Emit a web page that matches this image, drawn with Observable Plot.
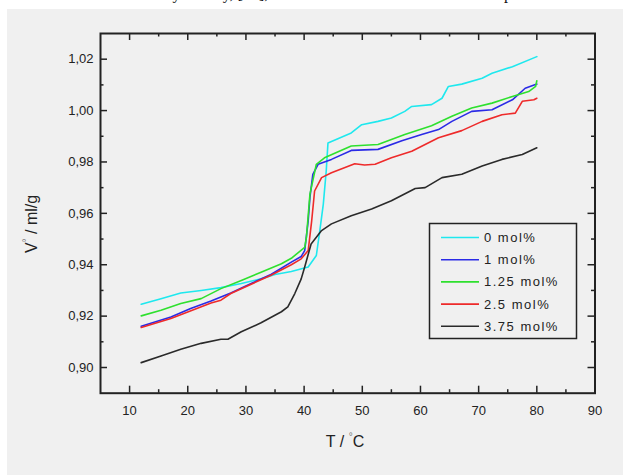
<!DOCTYPE html>
<html>
<head>
<meta charset="utf-8">
<script src="https://cdn.jsdelivr.net/npm/d3@7"></script>
<script src="https://cdn.jsdelivr.net/npm/@observablehq/plot@0.6"></script>
<style>
  body { margin: 0; background: #fff; width: 623px; height: 475px; overflow: hidden; position: relative;
         font-family: "Liberation Sans", Arial, sans-serif; }
  #caption { position: absolute; left: 12px; top: -15px; font: 16px "Liberation Serif", serif; color: #111; white-space: nowrap; }
  #panel { position: absolute; left: 7px; top: 9px; right: 0; bottom: 0; background: #f0f0f0; }
  #chart { position: absolute; left: 0; top: 0; }
</style>
</head>
<body>
<div id="caption">molar volume obtained by density, [14], for all SDS contents at different temperatures.</div>
<div id="panel"></div>
<div id="chart"></div>
<script>
// Specific volume V° (ml/g) versus temperature T (°C) for five SDS contents
const seriesNames = ["0 mol%", "1 mol%", "1.25 mol%", "2.5 mol%", "3.75 mol%"];
const seriesColors = ["#1ee8ee", "#2a2ae6", "#2ee02e", "#ee2a2a", "#2a2a2a"];

const t0 = [12, 15.4, 18.8, 22.3, 25.7, 29.2, 32.6, 35.0, 37.8, 40.7, 42.1, 42.7, 43.3, 43.8, 44.1, 45.8, 48.1, 49.9, 52.7, 55.0, 57.3, 58.5, 61.9, 63.7, 64.8, 67.1, 70.6, 72.3, 75.8, 80];
const v0 = [0.9246, 0.9268, 0.9290, 0.9300, 0.9311, 0.9327, 0.9345, 0.9362, 0.9374, 0.9391, 0.9436, 0.9533, 0.9636, 0.9765, 0.9874, 0.9890, 0.9913, 0.9945, 0.9958, 0.9971, 0.9997, 1.0016, 1.0023, 1.0048, 1.0094, 1.0103, 1.0126, 1.0145, 1.0171, 1.0210];

const t1 = [12, 17.1, 20.5, 24.0, 27.4, 30.9, 34.3, 37.8, 39.5, 40.1, 40.7, 41.0, 41.5, 42.4, 44.7, 48.1, 52.7, 56.8, 60.2, 63.1, 65.4, 68.8, 72.3, 75.8, 78.0, 80];
const v1 = [0.9161, 0.9197, 0.9230, 0.9259, 0.9290, 0.9327, 0.9362, 0.9410, 0.9432, 0.9455, 0.9571, 0.9662, 0.9752, 0.9791, 0.9810, 0.9845, 0.9849, 0.9883, 0.9907, 0.9926, 0.9958, 0.9997, 1.0003, 1.0042, 1.0087, 1.0103];

const t2 = [12, 15.4, 18.8, 22.3, 25.7, 29.2, 32.6, 36.1, 37.8, 40.1, 40.4, 41.0, 42.1, 43.5, 48.1, 52.7, 57.3, 61.9, 65.4, 68.8, 72.3, 75.8, 78.6, 79.8, 80];
const v2 = [0.9201, 0.9223, 0.9249, 0.9268, 0.9307, 0.9339, 0.9371, 0.9404, 0.9425, 0.9468, 0.9507, 0.9675, 0.9791, 0.9816, 0.9862, 0.9868, 0.9907, 0.9941, 0.9978, 1.0010, 1.0029, 1.0055, 1.0074, 1.0094, 1.0116];

const t3 = [12, 17.1, 24.0, 25.7, 27.4, 30.9, 34.3, 37.8, 39.5, 40.7, 41.3, 41.8, 43.0, 44.7, 48.7, 50.4, 52.2, 55.0, 58.5, 63.1, 67.1, 70.6, 74.0, 76.3, 77.5, 79.5, 80];
const v3 = [0.9156, 0.9191, 0.9251, 0.9262, 0.9288, 0.9324, 0.9359, 0.9400, 0.9423, 0.9455, 0.9571, 0.9687, 0.9739, 0.9758, 0.9793, 0.9788, 0.9791, 0.9816, 0.9842, 0.9894, 0.9922, 0.9958, 0.9984, 0.9990, 1.0036, 1.0042, 1.0048];

const t4 = [12, 15.4, 18.8, 22.3, 25.7, 26.9, 29.2, 32.6, 36.1, 37.2, 38.4, 39.5, 40.1, 41.2, 43.0, 44.7, 48.1, 51.6, 55.0, 59.1, 60.8, 63.7, 67.1, 70.6, 74.0, 77.5, 80];
const v4 = [0.9019, 0.9045, 0.9071, 0.9094, 0.9110, 0.9110, 0.9139, 0.9174, 0.9217, 0.9236, 0.9288, 0.9345, 0.9391, 0.9481, 0.9533, 0.9559, 0.9591, 0.9617, 0.9649, 0.9697, 0.9700, 0.9739, 0.9752, 0.9784, 0.9810, 0.9829, 0.9855];

const xMajor = [10, 20, 30, 40, 50, 60, 70, 80, 90];
const xMinor = [15, 25, 35, 45, 55, 65, 75, 85];
const yMajor = [0.90, 0.92, 0.94, 0.96, 0.98, 1.00, 1.02];
const yMinor = [0.91, 0.93, 0.95, 0.97, 0.99, 1.01];

const temps = [t0, t1, t2, t3, t4];
const vols = [v0, v1, v2, v3, v4];
const rows = seriesNames.flatMap((name, i) => temps[i].map((t, j) => ({series: name, t, v: vols[i][j]})));

const W = 623, H = 475, mL = 100, mR = 28.5, mT = 33, mB = 82.3;
const innerW = W - mL - mR, innerH = H - mT - mB;
const ink = "#222";
const comma = d => d.toFixed(2).replace(".", ",");

// inward ticks on all four sides
const tickStyle = {stroke: ink, strokeWidth: 1.5};
const xTicks = (vals, len) => [
  Plot.tickX(vals, {x: d => d, insetTop: innerH - len, ...tickStyle}),
  Plot.tickX(vals, {x: d => d, insetBottom: innerH - len, ...tickStyle})
];
const yTicks = (vals, len) => [
  Plot.tickY(vals, {y: d => d, insetRight: innerW - len, ...tickStyle}),
  Plot.tickY(vals, {y: d => d, insetLeft: innerW - len, ...tickStyle})
];

const chart = Plot.plot({
  width: W, height: H,
  marginLeft: mL, marginRight: mR, marginTop: mT, marginBottom: mB,
  style: {background: "transparent", fontFamily: "'Liberation Sans', Arial, sans-serif", fontSize: "13px", color: ink},
  x: {domain: [5, 90]},
  y: {domain: [0.89, 1.03]},
  color: {domain: seriesNames, range: seriesColors},
  marks: [
    ...xTicks(xMajor, 7), ...xTicks(xMinor, 3.5),
    ...yTicks(yMajor, 7), ...yTicks(yMinor, 3.5),
    Plot.line(rows, {x: "t", y: "v", z: "series", stroke: "series", strokeWidth: 1.6}),
    Plot.axisX({ticks: xMajor, tickSize: 0, tickPadding: 13, tickFormat: d => String(d), label: null, fill: ink}),
    Plot.axisY({ticks: yMajor, tickSize: 0, tickPadding: 7, tickFormat: comma, label: null, fill: ink}),
    Plot.frame({stroke: ink, strokeWidth: 2})
  ]
});
document.getElementById("chart").appendChild(chart);

const svg = d3.select(chart);
const font = "'Liberation Sans', Arial, sans-serif";

// axis titles with superscript degree signs
const xt = svg.append("text").attr("x", 345).attr("y", 447).attr("text-anchor", "middle")
  .attr("font-family", font).attr("font-size", 16).attr("fill", ink);
xt.append("tspan").text("T / ");
xt.append("tspan").attr("font-size", 10).attr("dy", -7).attr("fill", "#777").text("°");
xt.append("tspan").attr("dy", 7).text("C");

const yt = svg.append("text").attr("transform", "translate(37,224) rotate(-90)").attr("text-anchor", "middle")
  .attr("font-family", font).attr("font-size", 16).attr("fill", ink);
yt.append("tspan").text("V");
yt.append("tspan").attr("font-size", 10).attr("dy", -7).attr("fill", "#777").text("°");
yt.append("tspan").attr("dy", 7).text(" / ml/g");

// legend box
const lg = svg.append("g");
lg.append("rect").attr("x", 429.5).attr("y", 223.5).attr("width", 147).attr("height", 115)
  .attr("fill", "#f0f0f0").attr("stroke", ink).attr("stroke-width", 1.5);
seriesNames.forEach((name, i) => {
  const y = 237.5 + i * 22.2;
  lg.append("line").attr("x1", 441).attr("x2", 479).attr("y1", y).attr("y2", y)
    .attr("stroke", seriesColors[i]).attr("stroke-width", 1.6);
  lg.append("text").attr("x", 484).attr("y", y + 4.5).attr("text-anchor", "start")
    .attr("font-family", font).attr("font-size", 13)
    .attr("letter-spacing", "1.5px").attr("fill", ink).text(name);
});
</script>
</body>
</html>
